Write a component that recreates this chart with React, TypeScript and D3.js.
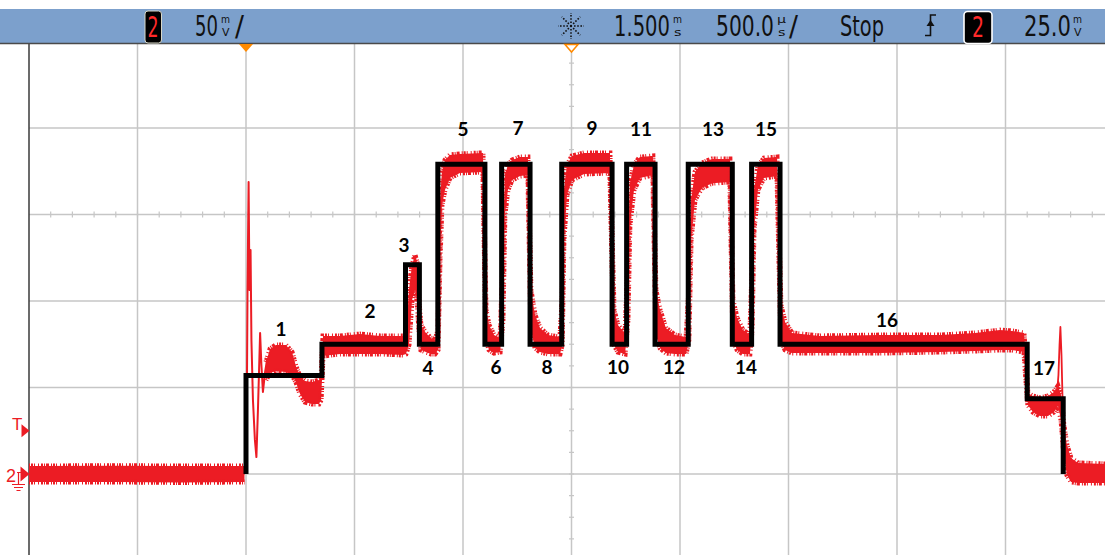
import { useLayoutEffect, useRef } from 'react';
import * as d3 from 'd3';

// Scope settings: ch2 50 mV/div, 500 µs/div, trigger at t = 0, delay 1.500 ms
const W = 1105;
const H = 555;
const timeDomain = [-1000, 4000]; // µs across 10 divisions
const voltDomain = [-50, 250]; // mV across 6 visible divisions

// Idealised step line (black) — [time µs, level mV]
const stepTimes = [0, 0, 350, 735, 799, 884, 1101, 1178, 1309, 1455, 1687, 1754, 1885, 2038, 2241, 2330, 2461, 3600, 3766];
const stepLevels = [0, 57, 75, 121, 75, 179, 75, 179, 75, 179, 75, 179, 75, 179, 75, 179, 75, 43.5, 0];

// Measured trace (red) envelope — [time µs, upper mV, lower mV]
const preTrigger: [number, number, number][] = [
  [-1000, 4.6, -4.6], [-600, 4.8, -4.6], [-300, 4.6, -4.9], [-7, 4.6, -4.6],
];
const envelope: [number, number, number][] = [
  [92, 64.7, 54.3], [111, 72.3, 58.4], [138, 74.6, 59.5], [184, 74.6, 59.0], [212, 70.5, 57.2],
  [230, 62.4, 53.2], [249, 56.1, 46.2], [272, 53.8, 41.6], [304, 53.2, 40.5], [336, 54.3, 40.5],
  [346, 55.5, 42.8],
  [355, 79.8, 68.2], [433, 79.8, 69.4], [525, 80.9, 69.4], [617, 79.8, 69.4], [723, 79.8, 68.8],
  [737, 77.5, 69.4], [751, 106.4, 74.6], [765, 120.8, 100.6], [779, 126.6, 106.4], [788, 122.5, 100.6], [797, 100.6, 83.2],
  [806, 86.1, 71.7], [829, 81.5, 70.5], [852, 78.6, 69.4], [871, 77.5, 69.4],
  [885, 83.2, 71.7], [894, 158.4, 123.7], [903, 174.6, 155.5], [917, 181.5, 164.2], [940, 184.4, 171.1], [986, 185.0, 174.0], [1092, 185.6, 174.6],
  [1106, 94.8, 77.5], [1120, 86.1, 71.7], [1143, 80.3, 69.9], [1171, 78.6, 70.5],
  [1184, 123.7, 89.0], [1193, 172.8, 149.7], [1207, 178.6, 164.2], [1226, 181.5, 169.9], [1263, 183.2, 172.2], [1299, 183.2, 172.8],
  [1313, 106.4, 83.2], [1332, 91.9, 72.8], [1355, 84.4, 70.5], [1392, 80.3, 69.4], [1447, 79.2, 69.4],
  [1457, 100.6, 74.6], [1465, 164.2, 135.3], [1479, 178.6, 161.3], [1502, 183.8, 169.9], [1558, 185.6, 173.4], [1677, 185.6, 174.0],
  [1696, 94.8, 74.6], [1714, 86.1, 70.5], [1747, 80.9, 69.4],
  [1760, 123.7, 89.0], [1769, 168.1, 143.9], [1788, 178.6, 164.2], [1815, 183.2, 171.1], [1875, 183.8, 172.8],
  [1889, 106.4, 80.3], [1908, 94.8, 72.8], [1935, 84.4, 69.9], [1977, 80.3, 69.4], [2028, 79.2, 69.4],
  [2041, 106.4, 77.5], [2051, 158.4, 135.3], [2069, 174.6, 158.4], [2101, 179.8, 165.3], [2147, 182.1, 168.1], [2230, 182.1, 168.8],
  [2244, 100.6, 77.5], [2263, 90.2, 71.7], [2290, 83.2, 69.4], [2322, 80.3, 69.4],
  [2332, 117.9, 83.2], [2341, 164.2, 141.0], [2359, 178.0, 164.2], [2387, 182.6, 171.1], [2447, 183.2, 172.2],
  [2465, 97.7, 77.5], [2484, 87.9, 71.7], [2516, 81.5, 69.9], [2645, 79.8, 69.9], [2921, 80.3, 69.9],
  [3198, 80.3, 70.5], [3359, 81.5, 71.1], [3474, 83.2, 71.7], [3530, 82.7, 71.7], [3585, 81.5, 70.5],
  [3594, 65.9, 54.3], [3603, 46.8, 39.9], [3626, 45.1, 35.8], [3659, 43.9, 33.5], [3696, 45.1, 33.5],
  [3723, 47.4, 35.8], [3742, 50.9, 39.3], [3756, 45.7, 31.2],
  [3769, 28.3, 11.0], [3783, 16.8, -0.6], [3802, 9.2, -4.6], [3834, 6.4, -5.2], [3960, 5.8, -5.2],
];
// ringing right after the trigger edge — [time µs, mV]
const ringing: [number, number][] = [
  [-9, 0], [2, 2.3], [7, 106.4], [12, 168.8], [16, 106.4], [21, 129.5], [25, 77.5], [32, 42.8],
  [41, 19.7], [48, 9.8], [55, 37], [65, 81.5], [71, 63], [78, 47.4], [88, 59], [97, 65.9],
];
// spike at the final falling edge
const lastSpike: [number, number][] = [
  [3737, 45.7], [3744, 57.2], [3749, 74.6], [3753, 85.0], [3758, 68.8], [3763, 42.8], [3767, 19.7],
];

// segment numbers placed at [time µs, mV]
const labelText = ['1', '2', '3', '4', '5', '6', '7', '8', '9', '10', '11', '12', '13', '14', '15', '16', '17'];
const labelTime = [161, 571, 728, 839, 1000, 1152, 1253, 1387, 1594, 1714, 1820, 1972, 2152, 2304, 2396, 2954, 3677];
const labelVolt = [83.8, 94.2, 132.4, 61.3, 199.4, 61.8, 200, 61.8, 200, 61.8, 199.4, 61.8, 199.4, 61.8, 199.4, 89, 61.3];

const RED = '#ec1c24';
const GRID = '#c6c6c6';
const BAR = '#7ca0cc';
const NARROW = '"Liberation Sans Narrow", "DejaVu Sans Condensed", "Roboto", sans-serif';

const App = () => {
  const svgRef = useRef<SVGSVGElement>(null);

  // squeeze the status-bar readouts to the scope's narrow lettering
  useLayoutEffect(() => {
    d3.select(svgRef.current)
      .selectAll<SVGTextElement, unknown>('text[data-len]')
      .each(function () {
        const el = this;
        el.removeAttribute('transform');
        const w = el.getComputedTextLength();
        const len = +(el.getAttribute('data-len') || w);
        const x0 = +(el.getAttribute('x') || 0);
        if (w > 0) el.setAttribute('transform', `translate(${x0},0) scale(${len / w},1) translate(${-x0},0)`);
      });
  }, []);

  const x = d3.scaleLinear().domain(timeDomain).range([29, 1114]);
  const y = d3.scaleLinear().domain(voltDomain).range([560.5, 41.5]);

  const area = d3
    .area<[number, number, number]>()
    .x((d) => x(d[0]))
    .y0((d) => y(d[2]))
    .y1((d) => y(d[1]));
  const upper = d3.line<[number, number, number]>().x((d) => x(d[0])).y((d) => y(d[1]));
  const lower = d3.line<[number, number, number]>().x((d) => x(d[0])).y((d) => y(d[2]));
  const trace = d3.line<[number, number]>().x((d) => x(d[0])).y((d) => y(d[1]));
  const steps = d3
    .line<number>()
    .x((_, i) => x(stepTimes[i]))
    .y((_, i) => y(stepLevels[i]))
    .curve(d3.curveStepAfter);

  const vLines = d3.range(-500, 4000, 500);
  const hLines = d3.range(-50, 251, 50);
  const minorT = d3.range(-900, 4000, 100);
  const minorV = d3.range(-50, 251, 12.5);

  const fringe = { fill: 'none', stroke: RED, strokeWidth: 5, strokeDasharray: '1 1 2 1 1 3 1 2 2 1 1 1 3 2' };

  const big = (s: string, x0: number, len: number) => (
    <text x={x0} y={36.5} fontFamily={NARROW} fontSize={28} fill="#111" data-len={len}>
      {s}
    </text>
  );
  const unit = (top: string, bottom: string, x0: number) => (
    <g fontFamily={NARROW} fontSize={10.5} fill="#111">
      <text x={x0} y={23.5} data-len={9}>{top}</text>
      <text x={x0 + 1} y={36.5} data-len={7.5}>{bottom}</text>
    </g>
  );

  return (
    <svg ref={svgRef} width={W} height={H} style={{ position: 'fixed', left: 0, top: 0, background: '#fff' }}>
      <rect width={W} height={H} fill="#fff" />
      {/* graticule */}
      {vLines.map((t) => (
        <line key={'v' + t} x1={x(t)} x2={x(t)} y1={44} y2={H} stroke={GRID} strokeWidth={1.5} />
      ))}
      {hLines.map((v) => (
        <line key={'h' + v} x1={29} x2={W} y1={y(v)} y2={y(v)} stroke={GRID} strokeWidth={1.5} />
      ))}
      {minorT.map((t) => (
        <line key={'mt' + t} x1={x(t)} x2={x(t)} y1={y(150) - 3} y2={y(150) + 3} stroke={GRID} strokeWidth={1.2} />
      ))}
      {minorV.map((v) => (
        <line key={'mv' + v} x1={x(1500) - 2.5} x2={x(1500) + 2.5} y1={y(v)} y2={y(v)} stroke={GRID} strokeWidth={1.2} />
      ))}
      <line x1={29} x2={29} y1={44} y2={H} stroke="#3a3a3a" strokeWidth={1.5} />

      {/* measured signal */}
      <path d={area(preTrigger) ?? ''} fill={RED} />
      <path d={upper(preTrigger) ?? ''} {...fringe} />
      <path d={lower(preTrigger) ?? ''} {...fringe} />
      <path d={area(envelope) ?? ''} fill={RED} />
      <path d={upper(envelope) ?? ''} {...fringe} />
      <path d={lower(envelope) ?? ''} {...fringe} />
      <path d={trace(ringing) ?? ''} fill="none" stroke={RED} strokeWidth={2} strokeLinejoin="round" />
      <path d={trace(lastSpike) ?? ''} fill="none" stroke={RED} strokeWidth={1.8} strokeLinejoin="round" />

      {/* idealised steps */}
      <path d={steps(stepLevels) ?? ''} fill="none" stroke="#000" strokeWidth={5} strokeLinejoin="miter" />

      {labelText.map((s, i) => (
        <text
          key={s}
          x={x(labelTime[i])}
          y={y(labelVolt[i])}
          dy="0.36em"
          textAnchor="middle"
          fontFamily="Lato, 'Open Sans', sans-serif"
          fontWeight={700}
          fontSize={19}
          fill="#000"
        >
          {s}
        </text>
      ))}

      {/* left markers */}
      <text x={12} y={430} fontFamily="'Liberation Sans', sans-serif" fontSize={17} fill={RED}>T</text>
      <path d={`M21.5,${y(25) - 6.5} L29.5,${y(25)} L21.5,${y(25) + 6.5} Z`} fill={RED} />
      <text x={6} y={482} fontFamily="'Liberation Sans', sans-serif" fontSize={18} fill={RED}>2</text>
      <path d={`M20.5,${y(0) - 7.5} L29.5,${y(0)} L20.5,${y(0) + 7.5} Z`} fill={RED} />
      <path d="M17,472.5 H21 M18.5,472.5 V484 M12,484.5 H25 M14,487.5 H23 M16.5,490.5 H20.5" stroke={RED} strokeWidth={1.2} fill="none" />

      {/* top status bar */}
      <rect x={0} y={9} width={W} height={35} fill={BAR} />
      <line x1={0} x2={W} y1={43.5} y2={43.5} stroke="#4a4a4a" strokeWidth={1.5} />
      <rect x={145} y={11} width={16.5} height={32} rx={3} fill="#000" stroke="#d8d8c8" strokeWidth={1} />
      <text x={147.5} y={37} fontFamily={NARROW} fontSize={28} fill="#ff2a2a" data-len={11}>2</text>
      {big('50', 195, 23)}
      {unit('m', 'V', 221)}
      {big('/', 235, 9)}

      <g stroke="#111" strokeWidth={1.6} strokeDasharray="1.6 1.6">
        {d3.range(8).map((k) => {
          const a = (k * Math.PI) / 4;
          return <line key={k} x1={571 + 3 * Math.cos(a)} y1={26 + 3 * Math.sin(a)} x2={571 + 13 * Math.cos(a)} y2={26 + 13 * Math.sin(a)} />;
        })}
      </g>
      <circle cx={571} cy={26} r={1.2} fill="#111" />
      {big('1.500', 614, 56)}
      {unit('m', 's', 673)}
      {big('500.0', 716, 58)}
      {unit('µ', 's', 777)}
      {big('/', 789, 9)}
      {big('Stop', 840, 44)}
      <path d="M925,35.5 H930.5 V15 H936" stroke="#111" strokeWidth={1.6} fill="none" />
      <path d="M926.5,26 L930.5,20 L934.5,26 Z" fill="#111" />
      <rect x={964} y={11.5} width={28} height={32} rx={3.5} fill="#000" stroke="#fff" strokeWidth={1.6} />
      <text x={972} y={37} fontFamily={NARROW} fontSize={28} fill="#ff2a2a" data-len={12}>2</text>
      {big('25.0', 1024, 47)}
      {unit('m', 'V', 1073)}

      {/* trigger / delay markers */}
      <path d={`M${x(0) - 7},44 L${x(0) + 7},44 L${x(0)},52 Z`} fill="#ff8a00" />
      <path d={`M${x(1500) - 6.5},44.5 L${x(1500) + 6.5},44.5 L${x(1500)},52 Z`} fill="#fff" stroke="#ff8a00" strokeWidth={1.5} />
    </svg>
  );
};

export default App;
